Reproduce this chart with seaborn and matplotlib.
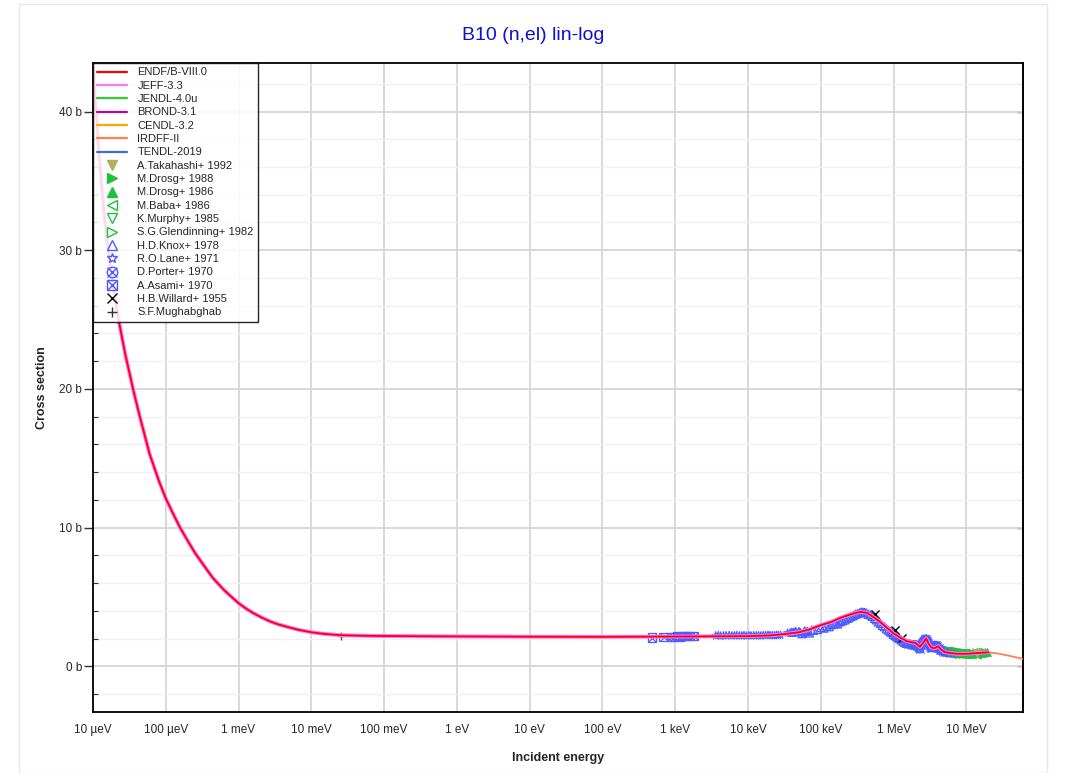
import numpy as np
import pandas as pd
import seaborn as sns
import matplotlib.pyplot as plt
from matplotlib.lines import Line2D
from matplotlib.patches import Rectangle
from matplotlib.ticker import FixedLocator, FixedFormatter, MultipleLocator, NullLocator, FuncFormatter

# evaluated B10 elastic cross section (E in eV, sigma in b)
eval_energy = [1e-5, 1.06e-5, 1.13e-5, 1.25e-5, 1.4e-5, 1.6e-5, 1.85e-5, 2.28e-5, 2.8e-5,
               3.62e-5, 4.4e-5, 6e-5, 8e-5, 1e-4, 1.26e-4, 1.57e-4, 2.0e-4,
               2.5e-4, 3.3e-4, 4.46e-4, 6.3e-4, 8e-4, 1e-3, 1.3e-3, 1.6e-3, 2.1e-3, 2.75e-3,
               3.5e-3, 4.5e-3, 6.5e-3, 1e-2, 1.5e-2, 2.53e-2, 5e-2,
               0.1, 1, 10, 100, 1e3, 1e4, 2e4, 3.05e4, 5e4, 7e4, 1e5, 1.4e5, 1.86e5, 2.6e5,
               3.46e5, 4.3e5, 6e5, 8e5, 1e6, 1.25e6, 1.53e6, 1.8e6, 2.0e6, 2.3e6, 2.55e6,
               2.8e6, 3.05e6, 3.3e6, 3.6e6, 3.8e6, 4.1e6, 4.5e6, 5e6, 6e6, 7.5e6, 1e7,
               1.4e7, 2e7]
eval_xs = [43.5, 41.4, 39.2, 36.0, 33.0, 30.2, 27.8, 24.8, 22.4,
           19.8, 18.0, 15.3, 13.4, 12.1, 11.0, 10.0, 9.05,
           8.2, 7.3, 6.35, 5.5, 5.0, 4.55, 4.12, 3.83, 3.5, 3.22,
           3.02, 2.86, 2.64, 2.45, 2.33, 2.24, 2.2,
           2.18, 2.15, 2.13, 2.12, 2.14, 2.17, 2.22, 2.31, 2.45, 2.65, 2.96, 3.2, 3.49, 3.75,
           3.92, 3.85, 3.35, 2.8, 2.36, 2.05, 1.8, 1.72, 1.68, 1.4, 1.7,
           2.0, 1.6, 1.35, 1.3, 1.35, 1.45, 1.2, 1.03, 0.95, 0.9, 0.9,
           0.95, 1.0]

# IRDFF-II runs on past 20 MeV
irdff_tail_energy = [2.7e7, 3.6e7, 4.6e7, 6e7]
irdff_tail_xs = [0.92, 0.79, 0.67, 0.53]

libraries = ["ENDF/B-VIII.0", "JEFF-3.3", "JENDL-4.0u", "BROND-3.1", "CENDL-3.2", "IRDFF-II", "TENDL-2019"]
lib_colors = ["#ff0000", "#ff77ff", "#33cc33", "#cc0099", "#ffa500", "#ff7f50", "#4169e1"]
lib_widths = [1.3, 2.8, 2.0, 1.3, 1.3, 1.3, 1.3]

# experimental data (E in eV, sigma in b)
takahashi_e = [14.1e6]
takahashi_xs = [0.95]
drosg88_e = [9.0e6, 10.0e6, 11.0e6, 12.5e6, 14.0e6, 15.5e6, 17.0e6, 18.5e6]
drosg88_xs = [0.9, 0.88, 0.92, 0.95, 0.94, 0.98, 1.0, 0.99]
drosg86_e = [10.5e6, 12.0e6, 13.5e6, 15.0e6, 16.5e6, 18.0e6, 19.5e6]
drosg86_xs = [0.85, 0.9, 0.93, 0.95, 0.97, 1.0, 1.0]
baba_e = [14.1e6]
baba_xs = [0.82]
murphy_e = [5.8e6, 6.5e6, 7.2e6, 8.0e6, 8.8e6, 9.6e6]
murphy_xs = [1.05, 1.0, 0.95, 0.92, 0.9, 0.88]
glendinning_e = [8.0e6, 10.0e6, 12.0e6, 14.0e6, 16.0e6, 18.0e6]
glendinning_xs = [0.86, 0.9, 0.92, 0.95, 0.97, 0.98]
knox_e = [4e4, 4.5e4, 5e4, 5.5e4, 6e4, 6.5e4, 7e4, 7.5e4, 8e4, 9e4, 1e5, 1.1e5, 1.2e5, 1.3e5,
          1.4e5, 1.5e5, 1.6e5, 1.7e5, 1.8e5, 1.9e5, 2e5, 2.15e5, 2.3e5, 2.45e5, 2.6e5, 2.8e5,
          3e5, 3.2e5, 3.4e5, 3.6e5, 3.8e5, 4e5, 4.2e5, 4.5e5, 4.8e5, 5.1e5, 5.5e5, 5.8e5,
          6.2e5, 6.6e5, 7e5, 7.5e5, 8e5, 8.5e5, 9e5, 9.5e5, 1e6, 1.05e6, 1.1e6, 1.15e6,
          1.2e6, 1.27e6, 1.35e6, 1.42e6, 1.5e6]
knox_xs = [2.45, 2.5, 2.5, 2.35, 2.55, 2.5, 2.4, 2.6, 2.6, 2.65, 2.8, 2.75, 2.9, 2.85,
           3.0, 3.05, 3.1, 3.05, 3.2, 3.25, 3.3, 3.35, 3.45, 3.5, 3.6, 3.65,
           3.75, 3.8, 3.85, 3.9, 3.9, 3.88, 3.85, 3.75, 3.7, 3.6, 3.45, 3.35,
           3.2, 3.1, 2.95, 2.85, 2.7, 2.6, 2.5, 2.42, 2.3, 2.22, 2.15, 2.08,
           2.0, 1.9, 1.8, 1.72, 1.65]
lane_e = [3.6e3, 3.9e3, 4.2e3, 4.6e3, 5.0e3, 5.5e3, 6.0e3, 6.5e3, 7.0e3, 7.6e3, 8.2e3, 8.8e3,
          9.5e3, 1.03e4, 1.1e4, 1.2e4, 1.3e4, 1.4e4, 1.5e4, 1.62e4, 1.75e4, 1.88e4, 2.0e4,
          2.15e4, 2.3e4, 2.45e4, 2.6e4, 2.8e4, 3.5e4, 3.8e4, 4.2e4, 4.5e4, 5.2e4, 5.8e4, 6.5e4]
lane_xs = [2.2, 2.22, 2.18, 2.2, 2.21, 2.23, 2.2, 2.21, 2.22, 2.2, 2.2, 2.23,
           2.19, 2.21, 2.2, 2.22, 2.21, 2.2, 2.2, 2.23, 2.22, 2.24, 2.23,
           2.22, 2.21, 2.24, 2.24, 2.25, 2.4, 2.42, 2.45, 2.5, 2.45, 2.3, 2.5]
porter_e = [1.6e6, 1.7e6, 1.8e6, 1.9e6, 2.0e6, 2.1e6, 2.2e6, 2.3e6, 2.4e6, 2.5e6, 2.6e6,
            2.7e6, 2.8e6, 2.9e6, 3.0e6, 3.1e6, 3.2e6, 3.3e6, 3.4e6, 3.5e6, 3.6e6, 3.7e6,
            3.8e6, 3.9e6, 4.0e6, 4.15e6, 4.3e6, 4.45e6, 4.6e6, 4.8e6, 5.0e6, 5.25e6, 5.5e6,
            5.75e6, 6.0e6, 6.5e6, 7.0e6, 7.5e6, 8.0e6]
porter_xs = [1.6, 1.58, 1.55, 1.5, 1.55, 1.45, 1.3, 1.25, 1.5, 1.75, 1.85,
             1.95, 1.95, 1.85, 1.7, 1.55, 1.4, 1.35, 1.35, 1.4, 1.45, 1.5,
             1.5, 1.45, 1.35, 1.3, 1.2, 1.15, 1.15, 1.1, 1.05, 1.02, 1.0,
             1.0, 0.98, 0.95, 0.95, 0.92, 0.92]
asami_e = [480, 690, 870, 950, 1050, 1150, 1250, 1350, 1450, 1600, 1800]
asami_xs = [2.07, 2.12, 2.13, 2.14, 2.15, 2.14, 2.16, 2.15, 2.16, 2.15, 2.18]
willard_e = [5.6e5, 1.05e6, 1.3e6]
willard_xs = [3.8, 2.6, 2.05]
mughabghab_e = [0.0253]
mughabghab_xs = [2.2]

x_tick_values = [1e-5, 1e-4, 1e-3, 1e-2, 1e-1, 1, 10, 100, 1e3, 1e4, 1e5, 1e6, 1e7]
x_tick_labels = ["10 µeV", "100 µeV", "1 meV", "10 meV", "100 meV", "1 eV", "10 eV",
                 "100 eV", "1 keV", "10 keV", "100 keV", "1 MeV", "10 MeV"]

sns.set_style("white")
plt.rcParams['font.family'] = ['Liberation Sans', 'DejaVu Sans']

fig = plt.figure(figsize=(10.71, 7.73), dpi=100)
ax = fig.add_axes([93/1071, 1 - 712/773, (1023 - 93)/1071, (712 - 63)/773])
fig.patches.append(Rectangle((19/1071, 0), (1047 - 19)/1071, 1 - 4/773, transform=fig.transFigure,
                             fill=False, edgecolor="#e8e8e8", lw=1, zorder=0))

blue = "#4a5cff"
green = "#1fbf3f"
ms = 34
exp_sets = [
    (asami_e, asami_xs, dict(marker="s", facecolor="none", edgecolor=blue, linewidth=0.9)),
    (asami_e, asami_xs, dict(marker="x", color=blue, linewidth=0.9)),
    (lane_e, lane_xs, dict(marker="*", facecolor="none", edgecolor=blue, linewidth=0.8)),
    (knox_e, knox_xs, dict(marker="^", facecolor="none", edgecolor=blue, linewidth=0.9)),
    (porter_e, porter_xs, dict(marker="o", facecolor="none", edgecolor=blue, linewidth=0.9)),
    (porter_e, porter_xs, dict(marker="x", color=blue, linewidth=0.9)),
    (murphy_e, murphy_xs, dict(marker="v", facecolor="none", edgecolor=green, linewidth=0.9)),
    (glendinning_e, glendinning_xs, dict(marker=">", facecolor="none", edgecolor=green, linewidth=0.9)),
    (baba_e, baba_xs, dict(marker="<", facecolor="none", edgecolor=green, linewidth=0.9)),
    (drosg86_e, drosg86_xs, dict(marker="^", color=green, edgecolor=green)),
    (drosg88_e, drosg88_xs, dict(marker=">", color=green, edgecolor=green)),
    (takahashi_e, takahashi_xs, dict(marker="v", color="#b5ad5e", edgecolor="#b5ad5e")),
    (willard_e, willard_xs, dict(marker="x", color="black", linewidth=1)),
    (mughabghab_e, mughabghab_xs, dict(marker="+", color="#555555", linewidth=1)),
]
for e, s, kw in exp_sets:
    sns.scatterplot(x=e, y=s, s=ms, ax=ax, legend=False, zorder=2, **kw)

# evaluated curves, drawn back to front so ENDF sits on top
for lib, col, lw in reversed(list(zip(libraries, lib_colors, lib_widths))):
    e = list(eval_energy)
    s = list(eval_xs)
    if lib == "IRDFF-II":
        e += irdff_tail_energy
        s += irdff_tail_xs
    df = pd.DataFrame({"E": e, "xs": s})
    sns.lineplot(data=df, x="E", y="xs", color=col, lw=lw, sort=False, estimator=None, ax=ax,
                 legend=False, zorder=3)

ax.set_xscale("log")
ax.set_xlim(1e-5, 6e7)
ax.set_ylim(-3.3, 43.5)

ax.xaxis.set_major_locator(FixedLocator(x_tick_values))
ax.xaxis.set_major_formatter(FixedFormatter(x_tick_labels))
ax.xaxis.set_minor_locator(NullLocator())
ax.yaxis.set_major_locator(MultipleLocator(10))
ax.yaxis.set_minor_locator(MultipleLocator(2))
ax.yaxis.set_major_formatter(FuncFormatter(lambda v, p: f"{int(round(v))} b"))

ax.grid(which="major", axis="both", color="#d6d6d6", lw=1.3, zorder=0)
ax.grid(which="minor", axis="y", color="#f0f0f0", lw=1.0, zorder=0)
ax.set_axisbelow(True)

ax.tick_params(axis="x", which="major", direction="inout", length=7, width=1, pad=5,
               labelsize=8.5, color="#333333")
ax.tick_params(axis="y", which="major", direction="out", length=6.5, width=1, pad=1.5,
               labelsize=8.5, left=True, color="#333333")
ax.tick_params(axis="y", which="minor", direction="in", length=3.5, width=0.8, left=True,
               color="#333333")

sec = ax.secondary_yaxis("right")
sec.yaxis.set_major_locator(MultipleLocator(10))
sec.yaxis.set_minor_locator(MultipleLocator(2))
sec.tick_params(which="major", direction="in", length=4, width=1, labelright=False, color="#333333")
sec.tick_params(which="minor", direction="in", length=3, width=0.8, color="#333333")
sec.spines["right"].set_linewidth(1.3)

for sp in ax.spines.values():
    sp.set_color("black")
    sp.set_linewidth(1.3)

ax.set_xlabel("Incident energy", fontsize=9, fontweight="bold", labelpad=12)
ax.set_ylabel("Cross section", fontsize=9, fontweight="bold", labelpad=8)
fig.text(533/1071, 1 - 35/773, "B10 (n,el) lin-log", ha="center", va="center",
         fontsize=14, color="#1010cc")

# legend
handles = [Line2D([], [], color=c, lw=1.6) for c in lib_colors]
labels = list(libraries)
mk = 7.5


def m(marker, col, filled=True):
    return Line2D([], [], ls="none", marker=marker, markersize=mk, color=col,
                  markerfacecolor=col if filled else "none", markeredgecolor=col, mew=1)


exp_handles = [
    m("v", "#b5ad5e"), m(">", green), m("^", green), m("<", green, False), m("v", green, False),
    m(">", green, False), m("^", blue, False), m("*", blue, False),
    (m("o", blue, False), m("x", blue)), (m("s", blue, False), m("x", blue)),
    m("x", "black"), m("+", "#333333"),
]
exp_labels = ["A.Takahashi+ 1992", "M.Drosg+ 1988", "M.Drosg+ 1986", "M.Baba+ 1986",
              "K.Murphy+ 1985", "S.G.Glendinning+ 1982", "H.D.Knox+ 1978", "R.O.Lane+ 1971",
              "D.Porter+ 1970", "A.Asami+ 1970", "H.B.Willard+ 1955", "S.F.Mughabghab"]
leg = ax.legend(handles + exp_handles, labels + exp_labels, loc="upper left", bbox_to_anchor=(0, 1),
                borderaxespad=0, fontsize=8, handlelength=2.7, handletextpad=0.9,
                labelspacing=0.3, borderpad=0.4, fancybox=False, framealpha=0.85,
                edgecolor="black")
leg.get_frame().set_linewidth(1.0)
leg.set_zorder(5)

fig.savefig("out.png", dpi=100)
